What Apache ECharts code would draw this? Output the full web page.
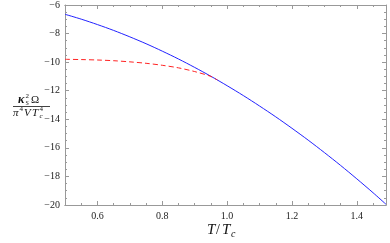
<!DOCTYPE html>
<html><head><meta charset="utf-8">
<script src="https://cdn.jsdelivr.net/npm/echarts@6/dist/echarts.min.js"></script>
<style>html,body{margin:0;padding:0;background:#fff}#c{width:390px;height:243px}</style>
</head><body><div id="c"></div>
<script>
const tValues = [0.50,0.55,0.60,0.65,0.70,0.75,0.80,0.85,0.90,0.95,1.00,1.05,1.10,1.15,1.20,1.25,1.30,1.35,1.40,1.45,1.49];
const blueValues = [-6.65,-6.99,-7.37,-7.78,-8.23,-8.71,-9.23,-9.78,-10.37,-10.99,-11.65,-12.34,-13.07,-13.83,-14.63,-15.46,-16.33,-17.23,-18.17,-19.14,-19.95];
const redT = [0.50,0.55,0.60,0.65,0.70,0.75,0.80,0.85,0.90,0.95,0.97];
const redValues = [-9.8,-9.82,-9.85,-9.9,-9.98,-10.08,-10.22,-10.4,-10.66,-11.0,-11.25];
const xMajorTicks = [0.6,0.8,1.0,1.2,1.4];
const xMinorTicks = [0.55,0.65,0.7,0.75,0.85,0.9,0.95,1.05,1.1,1.15,1.25,1.3,1.35,1.45];
const yTickLabels = [-20,-18,-16,-14,-12,-10,-8,-6];

const blue = tValues.map((t,i)=>[t,blueValues[i]]);
const red = redT.map((t,i)=>[t,redValues[i]]);
const fmt = v => String(v).replace('-', '\u2212');
const frame = '#999';
const lblStyle = {color:'#222', fontFamily:'Liberation Serif, DejaVu Serif, serif', fontSize:10};

function xAx(pos, ticks, len, labels){
  return {type:'value', min:0.5, max:1.49, position:pos,
    axisLine:{show:true, onZero:false, lineStyle:{color:frame, width:1}},
    axisTick:{show:true, inside:true, length:len, customValues:ticks, lineStyle:{color:frame}},
    axisLabel: labels ? Object.assign({show:true, customValues:xMajorTicks, margin:6, formatter:v=>v.toFixed(1)}, lblStyle) : {show:false},
    splitLine:{show:false}};
}
function yAx(pos, labels){
  return {type:'value', min:-20, max:-6, interval:2, position:pos,
    axisLine:{show:true, onZero:false, lineStyle:{color:frame, width:1}},
    axisTick:{show:true, inside:true, length:4, lineStyle:{color:frame}},
    minorTick:{show:true, splitNumber:4, length:2, lineStyle:{color:frame}},
    axisLabel: labels ? Object.assign({show:true, margin:5, formatter:fmt}, lblStyle) : {show:false},
    splitLine:{show:false}, minorSplitLine:{show:false}};
}
const chart = echarts.init(document.getElementById('c'), null, {renderer:'canvas'});
const serif = 'Liberation Serif, DejaVu Serif, serif';
function t(x,y,s,size,italic,bold){return {type:'text', x:x, y:y, style:{text:s, fontSize:size, fontFamily:serif, fontStyle:italic?'italic':'normal', fontWeight:bold?'bold':'normal', fill:'#111', textVerticalAlign:'middle'}};}
chart.setOption({
  animation:false,
  grid:{left:65, top:5, right:4, bottom:38},
  xAxis:[xAx('bottom', xMajorTicks, 4, true), xAx('bottom', xMinorTicks, 2, false), xAx('top', xMajorTicks, 4, false), xAx('top', xMinorTicks, 2, false)],
  yAxis:[yAx('left', true), yAx('right', false)],
  series:[
    {type:'line', data:blue, xAxisIndex:0, yAxisIndex:0, smooth:0.3, symbol:'none', lineStyle:{color:'#2222ff', width:1}},
    {type:'line', data:red, xAxisIndex:0, yAxisIndex:0, smooth:0.3, symbol:'none', lineStyle:{color:'#ff2222', width:1, type:[5,3]}}
  ],
  graphic:[
    t(18,100,'\u03ba',12,true,true), t(25.5,96,'2',7,false), t(25.5,103.5,'S',6,false), t(31,100,'\u03a9',11,false),
    {type:'line', shape:{x1:13,y1:106.5,x2:50,y2:106.5}, style:{stroke:'#111', lineWidth:0.8}},
    t(13,113.5,'\u03c0',11,true), t(19.5,109.5,'4',7,false), t(24,113.5,'V',11,true), t(32,113.5,'T',11,true), t(39.5,109.5,'4',7,false), t(39.5,116.5,'c',7,true),
    t(207,230,'T',15,true), t(216,230,'/',14,false), t(222,230,'T',15,true), t(231,234,'c',10,true)
  ]
});
</script></body></html>
